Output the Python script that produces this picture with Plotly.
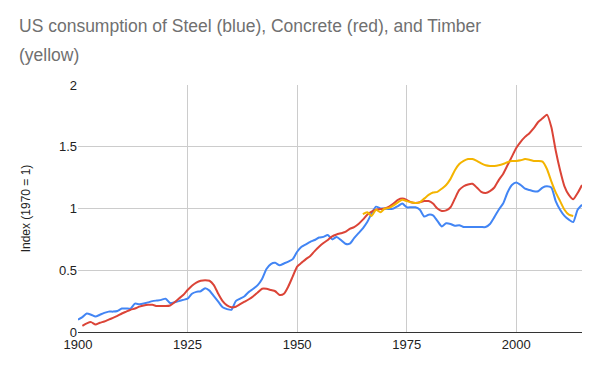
import plotly.graph_objects as go

steel_years = list(range(1900, 2016))
steel = [0.10, 0.12, 0.15, 0.14, 0.125, 0.14, 0.155, 0.165, 0.165, 0.17,
         0.19, 0.19, 0.19, 0.23, 0.225, 0.23, 0.24, 0.25, 0.255, 0.26,
         0.27, 0.235, 0.24, 0.25, 0.26, 0.27, 0.31, 0.325, 0.33, 0.355,
         0.335, 0.29, 0.245, 0.20, 0.185, 0.18, 0.25, 0.27, 0.29, 0.325,
         0.35, 0.38, 0.43, 0.51, 0.55, 0.56, 0.54, 0.555, 0.57, 0.59,
         0.65, 0.69, 0.71, 0.73, 0.745, 0.765, 0.77, 0.785, 0.75, 0.77,
         0.745, 0.715, 0.715, 0.76, 0.80, 0.84, 0.89, 0.96, 1.015, 1.0,
         1.0, 0.995, 1.0, 1.02, 1.04, 1.01, 1.01, 1.01, 0.99, 0.935,
         0.95, 0.945, 0.90, 0.855, 0.88, 0.875, 0.86, 0.865, 0.85, 0.85,
         0.85, 0.85, 0.85, 0.85, 0.875, 0.93, 0.99, 1.04, 1.13, 1.19,
         1.21, 1.19, 1.16, 1.15, 1.14, 1.14, 1.17, 1.18, 1.17, 1.06,
         0.99, 0.94, 0.91, 0.89, 0.99, 1.03]

concrete_years = list(range(1901, 2016))
concrete = [0.05, 0.07, 0.08, 0.06, 0.075, 0.085, 0.10, 0.115, 0.13,
            0.15, 0.165, 0.18, 0.19, 0.205, 0.215, 0.22, 0.22, 0.21, 0.21,
            0.21, 0.215, 0.24, 0.27, 0.30, 0.34, 0.375, 0.40, 0.415, 0.42,
            0.415, 0.38, 0.31, 0.25, 0.215, 0.20, 0.205, 0.225, 0.245, 0.265,
            0.29, 0.32, 0.35, 0.35, 0.34, 0.33, 0.30, 0.31, 0.37, 0.45,
            0.53, 0.56, 0.59, 0.615, 0.655, 0.69, 0.72, 0.745, 0.775, 0.79,
            0.80, 0.81, 0.835, 0.85, 0.875, 0.91, 0.95, 0.975, 0.99, 0.995,
            1.0, 1.015, 1.04, 1.07, 1.08, 1.07, 1.05, 1.045, 1.05, 1.06,
            1.06, 1.04, 1.0, 0.98, 0.985, 1.01, 1.08, 1.15, 1.18, 1.195,
            1.20, 1.17, 1.135, 1.125, 1.14, 1.17, 1.23, 1.28, 1.35, 1.42,
            1.49, 1.54, 1.58, 1.61, 1.65, 1.70, 1.73, 1.76, 1.66, 1.47,
            1.31, 1.18, 1.11, 1.075, 1.125, 1.19]

timber_years = list(range(1965, 2014))
timber = [0.955, 0.97, 0.94, 0.99, 0.97,
          1.0, 1.005, 1.025, 1.05, 1.07, 1.06, 1.05, 1.045, 1.05, 1.08,
          1.11, 1.13, 1.135, 1.16, 1.19, 1.24, 1.31, 1.36, 1.385, 1.40,
          1.40, 1.385, 1.365, 1.35, 1.345, 1.345, 1.35, 1.36, 1.375, 1.385,
          1.385, 1.39, 1.40, 1.395, 1.385, 1.385, 1.38, 1.32, 1.22, 1.13,
          1.06, 0.99, 0.95, 0.94]

x_ticks = [1900, 1925, 1950, 1975, 2000]
y_ticks = [0, 0.5, 1, 1.5, 2]
title_lines = ["US consumption of Steel (blue), Concrete (red), and Timber", "(yellow)"]

FONT = "Arial, Liberation Sans, sans-serif"

W, H = 600, 371
ML, MR, MT, MB = 78, 18, 85, 39
PW, PH = W - ML - MR, H - MT - MB

fig = go.Figure()
fig.add_trace(go.Scatter(x=steel_years, y=steel, mode="lines", name="Steel",
                         line=dict(color="#4285F4", width=2, shape="spline", smoothing=0.6)))
fig.add_trace(go.Scatter(x=concrete_years, y=concrete, mode="lines", name="Concrete",
                         line=dict(color="#DB4437", width=2, shape="spline", smoothing=0.6)))
fig.add_trace(go.Scatter(x=timber_years, y=timber, mode="lines", name="Timber",
                         line=dict(color="#F4B400", width=2, shape="spline", smoothing=0.6)))

for txt, ypx in zip(title_lines, [26, 55]):
    fig.add_annotation(
        text=txt, showarrow=False,
        xref="paper", yref="paper",
        x=(17 - ML) / PW, xanchor="left",
        y=(H - MB - ypx) / PH, yanchor="middle",
        font=dict(family=FONT, size=17.5, color="#707070"),
    )

fig.update_layout(
    width=W, height=H,
    paper_bgcolor="white", plot_bgcolor="white",
    margin=dict(l=ML, r=MR, t=MT, b=MB),
    showlegend=False,
    font=dict(family=FONT, color="#222222", size=13),
    xaxis=dict(
        range=[1900, 2015], tickvals=x_ticks, ticktext=[str(v) for v in x_ticks],
        showgrid=True, gridcolor="#cccccc", gridwidth=1,
        showline=True, linecolor="#333333", linewidth=1,
        zeroline=False, ticks="", tickfont=dict(family=FONT, size=13, color="#222222"),
    ),
    yaxis=dict(
        range=[0, 2], tickvals=y_ticks, ticktext=["0", "0.5", "1", "1.5", "2"],
        showgrid=True, gridcolor="#cccccc", gridwidth=1,
        zeroline=False, showline=False, ticks="",
        tickfont=dict(family=FONT, size=13, color="#222222"),
        title=dict(text="Index (1970 = 1)", font=dict(family=FONT, size=12, color="#222222"),
                   standoff=25),
    ),
)

fig.write_html("out.html", config={"displayModeBar": False},
               post_script="document.body.style.margin='0';")
